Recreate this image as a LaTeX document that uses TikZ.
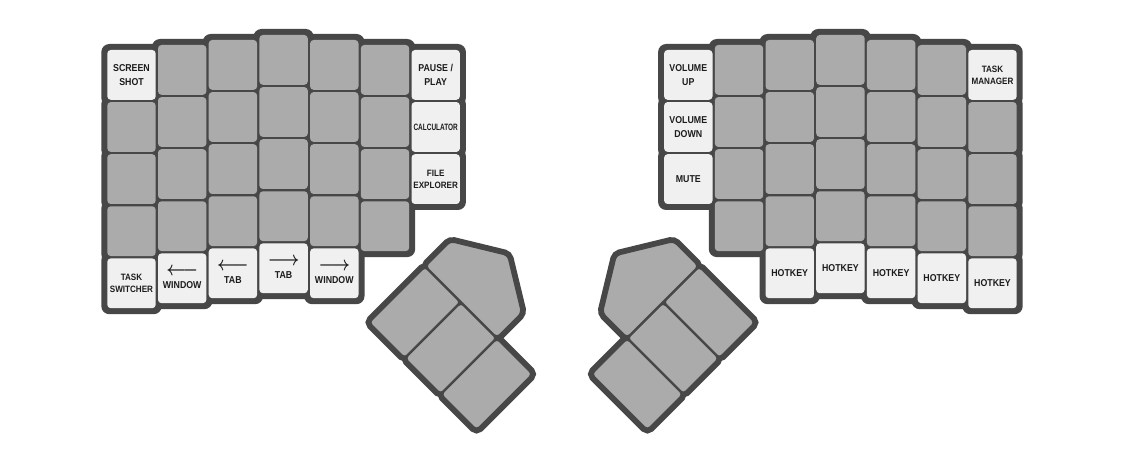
\documentclass[tikz,border=0pt]{standalone}
\usepackage{fontspec}
\setmainfont{Liberation Sans}[FakeStretch=0.88]
\usepackage{graphicx}
\definecolor{shell}{HTML}{474747}
\definecolor{keygray}{HTML}{ABABAB}
\definecolor{keylight}{HTML}{F0F0F0}
\definecolor{legend}{HTML}{1C1C1C}
\newcommand\larrow{\scalebox{1.7}[2.0]{\boldmath$\longleftarrow$}}
\newcommand\rarrow{\scalebox{1.7}[2.0]{\boldmath$\longrightarrow$}}

\begin{document}
\begin{tikzpicture}[
    x=1pt, y=-1pt,
    every node/.style={inner sep=0pt},
    shellbox/.style={fill=shell, rounded corners=8pt,
        minimum width=60.4pt, minimum height=61.8pt},
    keybox/.style={fill=keygray, rounded corners=3.5pt,
        minimum width=48.4pt, minimum height=49.8pt},
    fnkey/.style={keybox, fill=keylight, text=legend, align=center,
        font=\bfseries\fontsize{10}{13.5}\selectfont},
    fnsmall/.style={fnkey, font=\bfseries\fontsize{9.2}{12}\selectfont},
    thumbshell/.style={draw=shell, fill=shell, line width=9.3pt,
        rounded corners=4pt},
    thumbkey/.style={draw=shell, fill=keygray, line width=2.3pt,
        rounded corners=4pt},
]

% === canvas ===
\fill[white] (0,0) rectangle (1124,470);
\useasboundingbox (0,0) rectangle (1124,470);

% === key wells (dark outline behind every key) ===
\foreach \c/\yt/\n in {0/50/5, 1/45/5, 2/40/5, 3/35/5, 4/40/5, 5/45/4, 6/50/3}
    \foreach \r in {1,...,\n}
        \node[shellbox] (Ls-\c-\r) at ({131.5+50.7*\c}, {\yt+24.9+52.1*(\r-1)}) {};
\foreach \c/\yt/\n in {0/50/3, 1/45/4, 2/40/5, 3/35/5, 4/40/5, 5/45/5, 6/50/5}
    \foreach \r in {1,...,\n}
        \node[shellbox] (Rs-\c-\r) at ({688.3+50.7*\c}, {\yt+24.9+52.1*(\r-1)}) {};

% === plain keys ===
\foreach \c/\yt/\a/\b in {0/50/2/4, 1/45/1/4, 2/40/1/4, 3/35/1/4, 4/40/1/4, 5/45/1/4}
    \foreach \r in {\a,...,\b}
        \node[keybox] (L-\c-\r) at ({131.5+50.7*\c}, {\yt+24.9+52.1*(\r-1)}) {};
\foreach \c/\yt/\a/\b in {1/45/1/4, 2/40/1/4, 3/35/1/4, 4/40/1/4, 5/45/1/4, 6/50/2/4}
    \foreach \r in {\a,...,\b}
        \node[keybox] (R-\c-\r) at ({688.3+50.7*\c}, {\yt+24.9+52.1*(\r-1)}) {};

% === labelled keys, left half ===
\node[fnkey] (screenshot) at (131.5,74.9) {SCREEN\\SHOT};
\node[fnsmall] (taskswitch) at (131.5,283.3) {TASK\\SWITCHER};
\node[fnkey] (winprev) at (182.2,278.3) {\larrow\\WINDOW};
\node[fnkey] (tabprev) at (232.9,273.3) {\larrow\\TAB};
\node[fnkey] (tabnext) at (283.6,268.3) {\rarrow\\TAB};
\node[fnkey] (winnext) at (334.3,273.3) {\rarrow\\WINDOW};
\node[fnkey] (pauseplay) at (435.7,74.9) {PAUSE /\\PLAY};
\node[fnsmall] (calc) at (435.7,127.0) {\scalebox{0.8}[1]{CALCULATOR}};
\node[fnsmall] (explorer) at (435.7,179.1) {FILE\\EXPLORER};

% === labelled keys, right half ===
\node[fnkey] (volup) at (688.3,74.9) {VOLUME\\UP};
\node[fnkey] (voldown) at (688.3,127.0) {VOLUME\\DOWN};
\node[fnkey] (mute) at (688.3,179.1) {MUTE};
\node[fnsmall] (taskmgr) at (992.5,74.9) {TASK\\MANAGER};
\foreach \c/\yt [count=\i] in {2/40, 3/35, 4/40, 5/45, 6/50}
    \node[fnkey] (hotkey-\i) at ({688.3+50.7*\c}, {\yt+233.3}) {HOTKEY};

% === thumb clusters (right one is the mirror image) ===
\foreach \flip/\dx in {1/0, -1/1124} {
    \begin{scope}[shift={(\dx,0)}, xscale=\flip,
        x={(0.7071pt,-0.7071pt)}, y={(0.7071pt,0.7071pt)}]
        \foreach \s in {488.7, 539.6, 590.4}
            \path[thumbshell] (\s,32.7) -- ++(50.9,0) -- ++(0,79.6) -- ++(-50.9,0) -- cycle;
        \path[thumbshell] (488.7,112.3) -- (590.4,112.3) -- (590.4,148)
            -- (539.6,179) -- (488.7,148) -- cycle;
        \foreach \s in {488.7, 539.6, 590.4}
            \path[thumbkey] (\s,32.7) -- ++(50.9,0) -- ++(0,79.6) -- ++(-50.9,0) -- cycle;
        \path[thumbkey] (488.7,112.3) -- (590.4,112.3) -- (590.4,148)
            -- (539.6,179) -- (488.7,148) -- cycle;
    \end{scope}
}

\end{tikzpicture}
\end{document}
